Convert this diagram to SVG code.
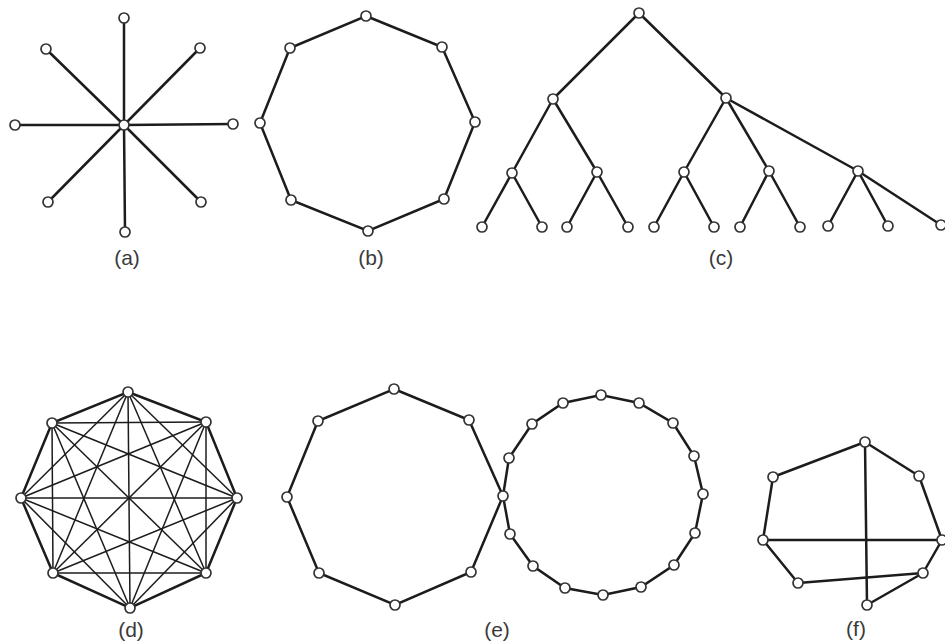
<svg xmlns="http://www.w3.org/2000/svg" width="945" height="644" viewBox="0 0 945 644">
<style>
.e{stroke:#1c1c1c;stroke-width:2.5;fill:none;stroke-linecap:round}
.k{stroke:#1c1c1c;stroke-width:1.5;fill:none}
.n{fill:#fff;stroke:#333;stroke-width:1.7}
.l{font-family:"Liberation Sans",Arial,sans-serif;font-size:21px;fill:#3a3a3a;text-anchor:middle}
</style>
<rect width="945" height="644" fill="#fff"/>
<g id="connectors">
<g id="edges-a" class="e">
<line x1="124" y1="125" x2="124" y2="18"/>
<line x1="124" y1="125" x2="46" y2="49"/>
<line x1="124" y1="125" x2="200" y2="48"/>
<line x1="124" y1="125" x2="15" y2="125"/>
<line x1="124" y1="125" x2="233" y2="124"/>
<line x1="124" y1="125" x2="48" y2="202"/>
<line x1="124" y1="125" x2="201" y2="202"/>
<line x1="124" y1="125" x2="125" y2="232"/>
</g>
<polygon id="edges-b" class="e" points="366,16 442,47 475,122 444,199 368,231 291,200 260,123 290,48"/>
<g id="edges-c" class="e">
<line x1="639" y1="13" x2="553" y2="99"/>
<line x1="639" y1="13" x2="726" y2="98"/>
<line x1="553" y1="99" x2="512" y2="173"/>
<line x1="553" y1="99" x2="597" y2="172"/>
<line x1="726" y1="98" x2="684" y2="172"/>
<line x1="726" y1="98" x2="769" y2="171"/>
<line x1="726" y1="98" x2="858" y2="171"/>
<line x1="512" y1="173" x2="482" y2="227"/>
<line x1="512" y1="173" x2="542" y2="227"/>
<line x1="597" y1="172" x2="567" y2="227"/>
<line x1="597" y1="172" x2="628" y2="227"/>
<line x1="684" y1="172" x2="654" y2="227"/>
<line x1="684" y1="172" x2="714" y2="227"/>
<line x1="769" y1="171" x2="740" y2="227"/>
<line x1="769" y1="171" x2="800" y2="227"/>
<line x1="858" y1="171" x2="828" y2="226"/>
<line x1="858" y1="171" x2="888" y2="226"/>
<line x1="858" y1="171" x2="941" y2="225"/>
</g>
<polygon id="edges-d-outer" class="e" points="128,392 206,422 237,498 206,573 130,608 53,573 21,498 52,423"/>
<g id="edges-d-inner" class="k">
<line x1="128" y1="392" x2="237" y2="498"/>
<line x1="128" y1="392" x2="206" y2="573"/>
<line x1="128" y1="392" x2="130" y2="608"/>
<line x1="128" y1="392" x2="53" y2="573"/>
<line x1="128" y1="392" x2="21" y2="498"/>
<line x1="206" y1="422" x2="206" y2="573"/>
<line x1="206" y1="422" x2="130" y2="608"/>
<line x1="206" y1="422" x2="53" y2="573"/>
<line x1="206" y1="422" x2="21" y2="498"/>
<line x1="206" y1="422" x2="52" y2="423"/>
<line x1="237" y1="498" x2="130" y2="608"/>
<line x1="237" y1="498" x2="53" y2="573"/>
<line x1="237" y1="498" x2="21" y2="498"/>
<line x1="237" y1="498" x2="52" y2="423"/>
<line x1="206" y1="573" x2="53" y2="573"/>
<line x1="206" y1="573" x2="21" y2="498"/>
<line x1="206" y1="573" x2="52" y2="423"/>
<line x1="130" y1="608" x2="21" y2="498"/>
<line x1="130" y1="608" x2="52" y2="423"/>
<line x1="53" y1="573" x2="52" y2="423"/>
</g>
<polygon id="edges-e-left" class="e" points="394,389 469,420 503,496 471,572 395,605 319,573 287,497 318,421"/>
<polygon id="edges-e-right" class="e" points="503,496 509,458 532,424 563,403 601,395 639,403 673,423 694,456 703,494 695,533 674,565 641,587 603,595 565,588 533,566 510,534"/>
<g id="edges-f" class="e">
<line x1="865" y1="442" x2="773" y2="477"/>
<line x1="865" y1="442" x2="919" y2="476"/>
<line x1="773" y1="477" x2="763" y2="540"/>
<line x1="919" y1="476" x2="942" y2="540"/>
<line x1="763" y1="540" x2="942" y2="540"/>
<line x1="865" y1="442" x2="867" y2="605"/>
<line x1="763" y1="540" x2="798" y2="583"/>
<line x1="798" y1="583" x2="923" y2="573"/>
<line x1="942" y1="540" x2="923" y2="573"/>
<line x1="923" y1="573" x2="867" y2="605"/>
</g>
</g>
<g id="node-a" class="n">
<circle cx="124" cy="125" r="5"/>
<circle cx="124" cy="18" r="5"/><circle cx="46" cy="49" r="5"/><circle cx="200" cy="48" r="5"/>
<circle cx="15" cy="125" r="5"/><circle cx="233" cy="124" r="5"/><circle cx="48" cy="202" r="5"/>
<circle cx="201" cy="202" r="5"/><circle cx="125" cy="232" r="5"/>
</g>
<g id="node-b" class="n">
<circle cx="366" cy="16" r="5"/><circle cx="442" cy="47" r="5"/><circle cx="475" cy="122" r="5"/>
<circle cx="444" cy="199" r="5"/><circle cx="368" cy="231" r="5"/><circle cx="291" cy="200" r="5"/>
<circle cx="260" cy="123" r="5"/><circle cx="290" cy="48" r="5"/>
</g>
<g id="node-c" class="n">
<circle cx="639" cy="13" r="5"/><circle cx="553" cy="99" r="5"/><circle cx="726" cy="98" r="5"/>
<circle cx="512" cy="173" r="5"/><circle cx="597" cy="172" r="5"/><circle cx="684" cy="172" r="5"/>
<circle cx="769" cy="171" r="5"/><circle cx="858" cy="171" r="5"/>
<circle cx="482" cy="227" r="5"/><circle cx="542" cy="227" r="5"/><circle cx="567" cy="227" r="5"/>
<circle cx="628" cy="227" r="5"/><circle cx="654" cy="227" r="5"/><circle cx="714" cy="227" r="5"/>
<circle cx="740" cy="227" r="5"/><circle cx="800" cy="227" r="5"/><circle cx="828" cy="226" r="5"/>
<circle cx="888" cy="226" r="5"/><circle cx="941" cy="225" r="5"/>
</g>
<g id="node-d" class="n">
<circle cx="128" cy="392" r="5"/><circle cx="206" cy="422" r="5"/><circle cx="237" cy="498" r="5"/>
<circle cx="206" cy="573" r="5"/><circle cx="130" cy="608" r="5"/><circle cx="53" cy="573" r="5"/>
<circle cx="21" cy="498" r="5"/><circle cx="52" cy="423" r="5"/>
</g>
<g id="node-e" class="n">
<circle cx="394" cy="389" r="5"/><circle cx="469" cy="420" r="5"/><circle cx="503" cy="496" r="5"/>
<circle cx="471" cy="572" r="5"/><circle cx="395" cy="605" r="5"/><circle cx="319" cy="573" r="5"/>
<circle cx="287" cy="497" r="5"/><circle cx="318" cy="421" r="5"/>
<circle cx="509" cy="458" r="5"/><circle cx="532" cy="424" r="5"/><circle cx="563" cy="403" r="5"/>
<circle cx="601" cy="395" r="5"/><circle cx="639" cy="403" r="5"/><circle cx="673" cy="423" r="5"/>
<circle cx="694" cy="456" r="5"/><circle cx="703" cy="494" r="5"/><circle cx="695" cy="533" r="5"/>
<circle cx="674" cy="565" r="5"/><circle cx="641" cy="587" r="5"/><circle cx="603" cy="595" r="5"/>
<circle cx="565" cy="588" r="5"/><circle cx="533" cy="566" r="5"/><circle cx="510" cy="534" r="5"/>
</g>
<g id="node-f" class="n">
<circle cx="865" cy="442" r="5"/><circle cx="773" cy="477" r="5"/><circle cx="919" cy="476" r="5"/>
<circle cx="763" cy="540" r="5"/><circle cx="942" cy="540" r="5"/><circle cx="923" cy="573" r="5"/>
<circle cx="798" cy="583" r="5"/><circle cx="867" cy="605" r="5"/>
</g>
<g id="labels" class="l">
<text x="127" y="265">(a)</text>
<text x="371" y="265">(b)</text>
<text x="721" y="265">(c)</text>
<text x="131" y="637">(d)</text>
<text x="497" y="637">(e)</text>
<text x="856" y="636">(f)</text>
</g>
</svg>
